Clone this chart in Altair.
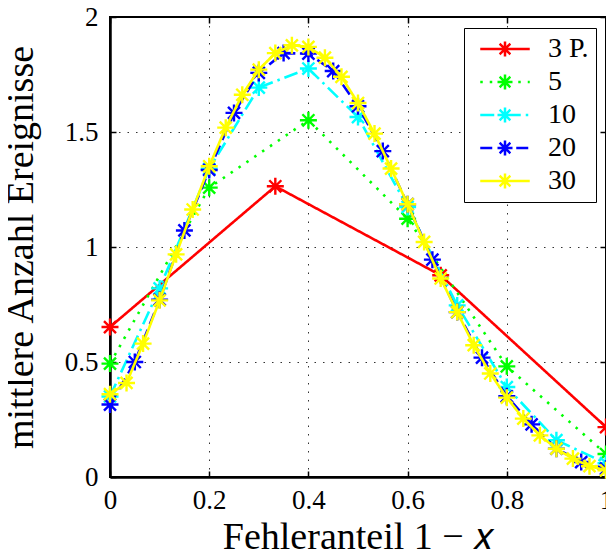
import altair as alt
import pandas as pd

# ---- data ----
series = ["3 P.", "5", "10", "20", "30"]
colors = ["#ff0000", "#00ff00", "#00ffff", "#0000ff", "#ffff00"]
dashes = [[1, 0], [2.5, 7], [14, 5, 2.5, 5], [12, 6], [1, 0]]

x_3 = [0.0, 0.3333, 0.6667, 1.0]
y_3 = [0.652, 1.264, 0.877, 0.217]

x_5 = [0.0, 0.2, 0.4, 0.6, 0.8, 1.0]
y_5 = [0.493, 1.258, 1.551, 1.123, 0.481, 0.10]

x_10 = [0.0, 0.1, 0.2, 0.3, 0.4, 0.5, 0.6, 0.7, 0.8, 0.9, 1.0]
y_10 = [0.35, 0.82, 1.34, 1.693, 1.776, 1.565, 1.174, 0.746, 0.391, 0.16, 0.06]

x_20 = [0.0, 0.05, 0.1, 0.15, 0.2, 0.25, 0.3, 0.35, 0.4, 0.45, 0.5,
        0.55, 0.6, 0.65, 0.7, 0.75, 0.8, 0.85, 0.9, 0.95, 1.0]
y_20 = [0.315, 0.50, 0.771, 1.072, 1.335, 1.583, 1.757, 1.843, 1.841, 1.765, 1.612,
        1.417, 1.186, 0.945, 0.717, 0.519, 0.351, 0.229, 0.123, 0.065, 0.036]

x_30 = [0.0, 0.0333, 0.0667, 0.1, 0.1333, 0.1667, 0.2, 0.2333, 0.2667, 0.3, 0.3333,
        0.3667, 0.4, 0.4333, 0.4667, 0.5, 0.5333, 0.5667, 0.6, 0.6333, 0.6667,
        0.7, 0.7333, 0.7667, 0.8, 0.8333, 0.8667, 0.9, 0.9333, 0.9667, 1.0]
y_30 = [0.36, 0.409, 0.58, 0.768, 0.968, 1.163, 1.351, 1.519, 1.662, 1.771, 1.843,
        1.877, 1.87, 1.823, 1.74, 1.626, 1.493, 1.341, 1.186, 1.022, 0.863,
        0.717, 0.573, 0.45, 0.345, 0.254, 0.181, 0.123, 0.08, 0.047, 0.029]

x_ticks = [0, 0.2, 0.4, 0.6, 0.8, 1]
y_ticks = [0, 0.5, 1, 1.5, 2]

xs = [x_3, x_5, x_10, x_20, x_30]
ys = [y_3, y_5, y_10, y_20, y_30]

rows = []
for s, xv, yv in zip(series, xs, ys):
    for a, b in zip(xv, yv):
        rows.append({"x": a, "y": b, "s": s})
df = pd.DataFrame(rows)

FONT = "Liberation Serif"
STAR = ("M-1,0L1,0M0,-1L0,1M-0.7071,-0.7071L0.7071,0.7071"
        "M-0.7071,0.7071L0.7071,-0.7071")

# legend symbol: line + asterisk; asterisk spokes split into short sub-paths so
# that the series' dash pattern does not break up the marker
spokes = [(1, 0), (-1, 0), (0, 1), (0, -1), (0.7071, 0.7071), (-0.7071, -0.7071),
          (0.7071, -0.7071), (-0.7071, 0.7071)]
parts = ["M-3.3,0L3.3,0"]
nseg = 4
for dx, dy in spokes:
    for k in range(nseg):
        a0, a1 = k / nseg, (k + 1) / nseg
        parts.append(f"M{dx*a0:.4f},{dy*a0:.4f}L{dx*a1:.4f},{dy*a1:.4f}")
LEG_SYM = "".join(parts)

legend = alt.Legend(
    title=None, orient="none", legendX=354, legendY=11,
    symbolType=LEG_SYM, symbolSize=225, symbolStrokeWidth=2.5,
    symbolFillColor="transparent", symbolOffset=20, labelOffset=29,
    labelFont=FONT, labelFontSize=28, labelColor="black",
    rowPadding=5, padding=7, strokeColor="black", fillColor="white",
    cornerRadius=0,
)

xscale = alt.Scale(domain=[0, 1], nice=False)
yscale = alt.Scale(domain=[0, 2], nice=False)

xenc = alt.X("x:Q", scale=xscale,
             axis=alt.Axis(values=x_ticks, format="~g",
                           title="Fehleranteil 1 − 𝑥", labelFlush=False,
                           labelPadding=10, titlePadding=5))
yenc = alt.Y("y:Q", scale=yscale,
             axis=alt.Axis(values=y_ticks, format="~g",
                           title="mittlere Anzahl Ereignisse", labelFlush=False,
                           labelPadding=12, titlePadding=24))
color = alt.Color("s:N", scale=alt.Scale(domain=series, range=colors), legend=legend)
dash = alt.StrokeDash("s:N", scale=alt.Scale(domain=series, range=dashes), legend=legend)

base = alt.Chart(df)
layers = []
for s in series:
    sub = base.transform_filter(alt.datum.s == s)
    layers.append(sub.mark_line(strokeWidth=2.6).encode(x=xenc, y=yenc, color=color, strokeDash=dash))
    layers.append(sub.mark_point(shape=STAR, filled=False, size=289, strokeWidth=2.4, opacity=1)
                  .encode(x=xenc, y=yenc, color=color))
main = alt.layer(*layers)


def tick_axis(orient):
    return alt.Axis(orient=orient, values=(x_ticks if orient in ("top", "bottom") else y_ticks),
                    labels=False, domain=False, grid=False, ticks=True, tickSize=6,
                    tickWidth=1.5, tickColor="black", offset=-6, title=None)


ticks_tr = base.mark_point(opacity=0).encode(
    x=alt.X("x:Q", scale=xscale, axis=tick_axis("top")),
    y=alt.Y("y:Q", scale=yscale, axis=tick_axis("right")),
)
ticks_bl = base.mark_point(opacity=0).encode(
    x=alt.X("x:Q", scale=xscale, axis=tick_axis("bottom")),
    y=alt.Y("y:Q", scale=yscale, axis=tick_axis("left")),
)

chart = alt.layer(main, ticks_tr, ticks_bl).resolve_axis(
    x="independent", y="independent"
).properties(
    width=496, height=460,
    autosize=alt.AutoSizeParams(type="none"),
    padding={"left": 102, "top": 9, "right": 0, "bottom": 74},
).configure_view(
    stroke="black", strokeWidth=2
).configure_axis(
    labelFont=FONT, labelFontSize=27, labelColor="black",
    titleFont=FONT, titleFontSize=38, titleFontWeight="normal", titleColor="black",
    grid=True, gridColor="black", gridDash=[1.5, 7], gridWidth=1, gridOpacity=0.8,
    domainColor="black", domainWidth=2.5, ticks=False,
)

chart.save("out.html", embed_options={"renderer": "svg", "actions": False})
